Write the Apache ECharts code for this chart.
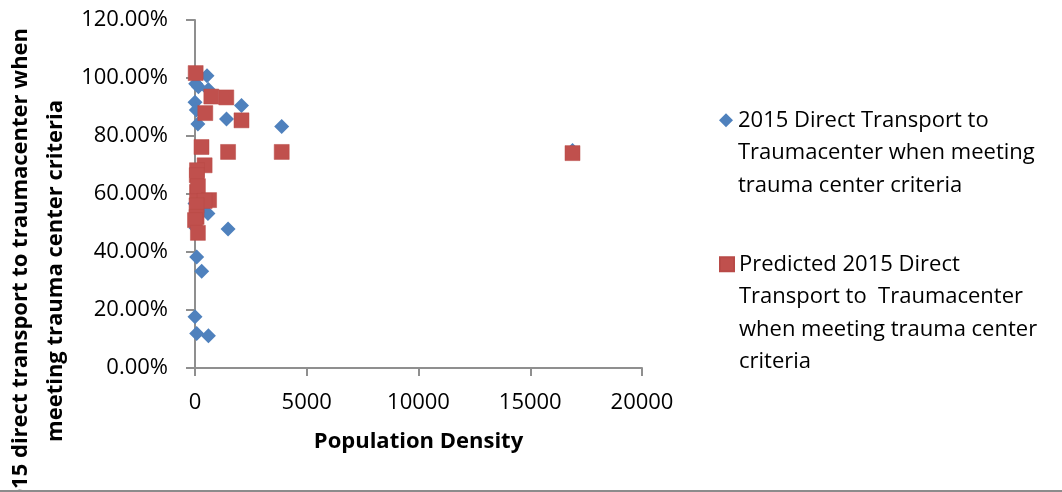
<!DOCTYPE html>
<html><head><meta charset="utf-8">
<script src="https://cdn.jsdelivr.net/npm/echarts@6/dist/echarts.min.js"></script>
<style>html,body{margin:0;padding:0;background:#fff}#c{width:1062px;height:492px}</style>
</head><body><div id="c"></div>
<script>
const actualName = '2015 Direct Transport to\nTraumacenter when meeting\ntrauma center criteria';
const predictedName = 'Predicted 2015 Direct\nTransport to  Traumacenter\nwhen meeting trauma center\ncriteria';
const xAxisTitle = 'Population Density';
const yAxisTitle = '2015 direct transport to traumacenter when\nmeeting trauma center criteria';

const actualDensity = [537, 30, 150, 600, 0, 60, 2080, 1410, 130, 3880, 16890, 580, 0, 45, 1480, 75, 300, 0, 75, 600, 100, 200];
const actualPct     = [1.008, 0.98, 0.97, 0.96, 0.916, 0.89, 0.905, 0.859, 0.841, 0.833, 0.75, 0.533, 0.567, 0.483, 0.479, 0.383, 0.334, 0.177, 0.119, 0.111, 0.60, 0.55];

const predDensity = [30, 730, 1400, 460, 2080, 290, 1480, 3880, 16890, 430, 90, 80, 90, 130, 630, 430, 70, 70, 0, 130];
const predPct     = [1.017, 0.936, 0.933, 0.879, 0.854, 0.762, 0.745, 0.745, 0.741, 0.699, 0.682, 0.665, 0.607, 0.627, 0.579, 0.576, 0.561, 0.521, 0.51, 0.466];

const FONT = '"Open Sans", "Noto Sans", sans-serif';
const LH = 32.5;

// Put the icon beside the first line of a multi-line legend label
function firstLineFormatter(name) {
  const n = name.split('\n').length;
  return '\n'.repeat(n - 1) + name;
}

const chart = echarts.init(document.getElementById('c'), null, {renderer: 'canvas'});
const axisLineStyle = {color: '#8f8f8f', width: 2};

const legendBase = {
  orient: 'vertical', left: 719, padding: 0,
  itemWidth: 14, itemHeight: 14, itemGap: 0,
  formatter: firstLineFormatter,
  textStyle: {color: '#000', fontSize: 22, fontFamily: FONT, lineHeight: LH}
};

chart.setOption({
  animation: false,
  backgroundColor: '#fff',
  textStyle: {fontFamily: FONT},
  grid: {left: 195, right: 420, top: 20, bottom: 124, containLabel: false},
  xAxis: {
    type: 'value', min: 0, max: 20000, interval: 5000,
    splitLine: {show: false},
    axisLine: {show: true, onZero: false, lineStyle: axisLineStyle},
    axisTick: {show: true, length: 8, inside: false, lineStyle: axisLineStyle},
    axisLabel: {margin: 24, color: '#000', fontSize: 22, fontFamily: FONT,
      formatter: v => String(v)},
    name: xAxisTitle, nameLocation: 'middle', nameGap: 63,
    nameTextStyle: {color: '#000', fontSize: 22, fontWeight: 'bold', fontFamily: FONT}
  },
  yAxis: {
    type: 'value', min: 0, max: 1.2, interval: 0.2,
    splitLine: {show: false},
    axisLine: {show: true, onZero: false, lineStyle: axisLineStyle},
    axisTick: {show: true, length: 9, inside: false, lineStyle: axisLineStyle},
    axisLabel: {margin: 27, color: '#000', fontSize: 22, fontFamily: FONT,
      formatter: v => (v * 100).toFixed(2) + '%'}
  },
  legend: [
    Object.assign({}, legendBase, {data: [actualName], top: 104 - 2 * LH}),
    Object.assign({}, legendBase, {data: [predictedName], top: 248 - 3 * LH})
  ],
  graphic: [
    {type: 'text', x: 38, y: 271, rotation: Math.PI / 2, silent: true,
      style: {text: yAxisTitle, align: 'center', verticalAlign: 'middle',
        font: 'bold 22px ' + FONT, fill: '#000', lineHeight: 35}},
    {type: 'rect', silent: true, shape: {x: 0, y: 490, width: 1062, height: 2},
      style: {fill: '#8c8c8c'}}
  ],
  series: [
    {
      name: actualName, type: 'scatter', symbol: 'diamond', symbolSize: 15,
      itemStyle: {color: '#4F81BD', opacity: 1},
      data: actualDensity.map((d, i) => [d, actualPct[i]])
    },
    {
      name: predictedName, type: 'scatter', symbol: 'rect', symbolSize: 15,
      itemStyle: {color: '#C0504D', opacity: 1, borderColor: '#B84A47', borderWidth: 0.5},
      data: predDensity.map((d, i) => [d, predPct[i]])
    }
  ]
});
</script></body></html>
